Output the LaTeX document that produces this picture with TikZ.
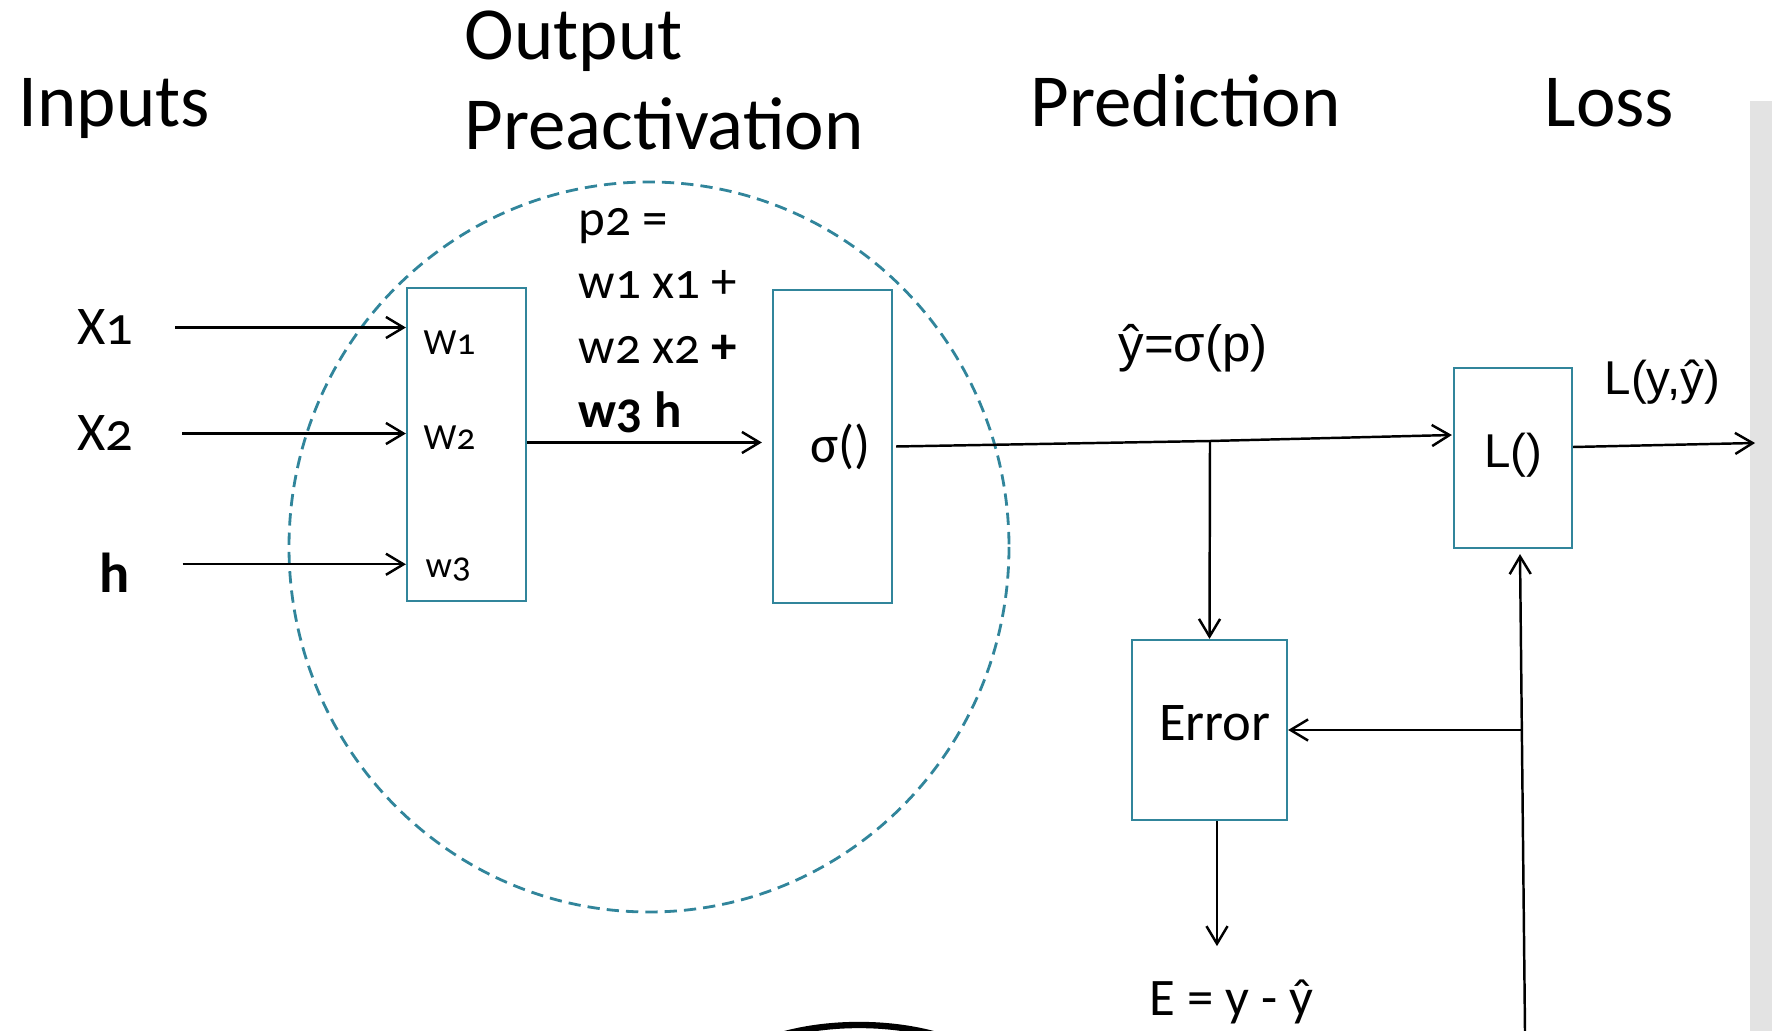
\documentclass[tikz,border=0pt]{standalone}
\usepackage{fontspec}
\setmainfont{Carlito}
\newfontfamily\numfont[Numbers=OldStyle]{Carlito}
\newfontfamily\arialfont{Liberation Sans}
\usetikzlibrary{arrows.meta,calc}
\definecolor{boxteal}{RGB}{49,133,155}
\definecolor{stripgray}{RGB}{227,227,227}
\tikzset{
	heading/.style={anchor=base west, inner sep=0pt, font=\fontsize{21.3}{25}\selectfont},
	inlabel/.style={anchor=base west, inner sep=0pt, font=\numfont\fontsize{15.5}{18}\selectfont},
	wlabel/.style={anchor=base west, inner sep=0pt, font=\numfont\fontsize{10.5}{12}\selectfont},
	sumline/.style={anchor=base west, inner sep=0pt, font=\numfont\fontsize{14.5}{17}\selectfont},
	arial/.style={anchor=base west, inner sep=0pt, font=\arialfont\fontsize{#1}{#1}\selectfont},
	cell/.style={draw=boxteal, line width=0.6pt, inner sep=0pt},
	arr/.style={-{Straight Barb[length=5pt,width=6pt]}, line width=0.7pt}
}

\begin{document}
\begin{tikzpicture}[x=0.01cm, y=-0.01cm]
        \useasboundingbox (0,0) rectangle (1772,1031);
        \fill[stripgray] (1750,101) rectangle (1772,1031);

        % headings
        \node[heading] (hin) at (18,127) {Inputs};
        \node[heading] (hout) at (464,60) {Output};
        \node[heading] (hpre) at (464,150) {Preactivation};
        \node[heading] (hpred) at (1030,127) {Prediction};
        \node[heading] (hloss) at (1544,127) {Loss};

        % neuron outline
        \draw[boxteal, line width=0.8pt, dash pattern=on 3.5pt off 2pt] (649,547) ellipse [x radius=360, y radius=365];

        % blocks
        \node[cell, minimum width=1.19cm, minimum height=3.13cm] (wbox) at (466.5,444.5) {};
        \node[cell, minimum width=1.19cm, minimum height=3.13cm, font=\fontsize{15}{18}\selectfont] (sbox) at (832.5,446.5) {\hspace*{4.5pt}σ()};
        \node[cell, minimum width=1.18cm, minimum height=1.80cm, font=\arialfont\fontsize{13.5}{15}\selectfont] (lbox) at (1513,458) {\raisebox{4.5pt}{L()}};
        \node[cell, minimum width=1.55cm, minimum height=1.80cm, font=\fontsize{15.5}{18}\selectfont] (ebox) at (1209.5,730) {\hspace*{3pt}\raisebox{4pt}{Error}};

        % inputs and weights
        \node[inlabel] (x1) at (77,345) {X1};
        \node[inlabel] (x2) at (77,451) {X2};
        \node[inlabel, font=\bfseries\fontsize{16}{19}\selectfont] (hh) at (99,593) {h};
        \node[wlabel] (w1) at (423,355) {W1};
        \node[wlabel] (w2) at (423,450) {W2};
        \node[wlabel] (w3) at (425,578) {w3};

        \node[sumline] (p1) at (578,236) {p2 =};
        \node[sumline] (p2) at (578,299) {w1 x1 +};
        \node[sumline] (p3) at (578,364) {w2 x2 \textbf{+}};
        \node[sumline] (p4) at (578,428) {\textbf{w3 h}};

        \node[arial=14.5] (yhat) at (1118,362) {ŷ=σ(p)};
        \node[arial=13.5] (lout) at (1604,395) {L(y,ŷ)};
        \node[anchor=base west, inner sep=0pt, font=\fontsize{15}{18}\selectfont] (elab) at (1149,1016) {E = y - ŷ};

        \draw[arr] ($(x1.east)+(41,0)$) -- (x1.east -| wbox.west);
        \draw[arr] ($(x2.east)+(48,0)$) -- (x2.east -| wbox.west);
        \draw[arr] ($(hh.east)+(52,-9)$) coordinate (hs) -- (hs -| wbox.west);
        \draw[arr] ($(wbox.east)+(0,-2)$) -- ($(sbox.west)+(-10,-4)$);

        \coordinate (br) at (1210,441);
        \draw[arr] ($(sbox.east)+(3,0)$) -- (br) -- ($(lbox.west)+(-1,-23)$);
        \draw[arr] (br) -- (ebox.north);
        \draw[arr] ($(lbox.east)+(0,-11)$) -- ++(182,-4);
        \draw[arr] ($(ebox.south)+(7.5,0)$) -- ++(0,125);

        % target feeding back into the loss
        \coordinate (fb) at (1525,1031);
        \coordinate (fj) at (1522,730);
        \draw[arr] (fb) -- ($(lbox.south)+(7,5)$);
        \draw[arr] (fj) -- (ebox.east);

        \begin{scope}
            \clip (0,0) rectangle (1772,1031);
            \draw[line width=1.8pt] (859,1105) ellipse [x radius=160, y radius=80];
        \end{scope}
    \end{tikzpicture}
\end{document}
